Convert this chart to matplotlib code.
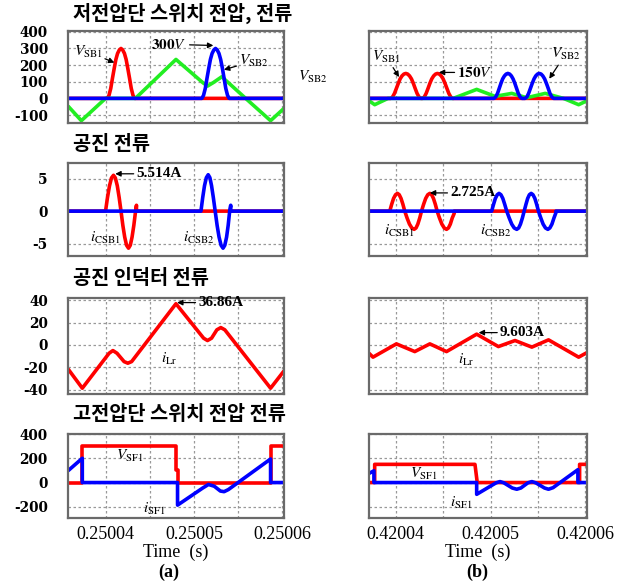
import matplotlib
matplotlib.use("Agg")
import matplotlib.pyplot as plt

plt.rcParams["mathtext.fontset"] = "stix"

W, H = 625, 582
RED, BLUE, GREEN = "#ff0000", "#0000ff", "#22ee22"
KR = ["Noto Sans CJK KR", "DejaVu Sans"]

# time axis in microseconds after 0.25 s (a) and 0.42 s (b)
XLIM_A = (35.75, 60.2)
XLIM_B = (37.18, 60.18)
XTICKS = [40, 50, 60]
XLABELS_A = ["0.25004", "0.25005", "0.25006"]
XLABELS_B = ["0.42004", "0.42005", "0.42006"]
XGRID = [40, 45, 50, 55, 60]

titles = ["저전압단 스위치 전압, 전류", "공진 전류", "공진 인덕터 전류", "고전압단 스위치 전압 전류"]
yticks = [[-100, 0, 100, 200, 300, 400], [-5, 0, 5], [-40, -20, 0, 20, 40], [-200, 0, 200, 400]]
ylims = [(-148, 405), (-6.9, 7.4), (-44, 42), (-292, 400)]

# ---- (a) low-voltage switch voltages
vsb1_a_t = [35.75, 40.2, 40.39, 40.59, 40.78, 40.98, 41.17, 41.36, 41.56, 41.75,
            41.94, 42.14, 42.33, 42.52, 42.72, 42.91, 43.11, 43.3, 60.2]
vsb1_a_v = [0, 0, 18, 60, 120, 180, 234, 270, 291, 300,
            291, 270, 234, 180, 120, 60, 18, 0, 0]
vsb2_a_t = [35.75, 50.9, 51.09, 51.29, 51.48, 51.68, 51.87, 52.06, 52.26, 52.45,
            52.64, 52.84, 53.03, 53.23, 53.42, 53.61, 53.81, 54.0, 60.2]
vsb2_a_v = [0, 0, 18, 60, 120, 180, 234, 270, 291, 300,
            291, 270, 234, 180, 120, 60, 18, 0, 0]
green_a_t = [35.75, 37.26, 40.0, 43.38, 47.97, 51.0, 51.54, 52.2, 53.16, 55.86, 58.68, 60.2]
green_a_v = [-46, -134, 0, 0, 234, 95, 74, 95, 130, 0, -134, -60]

# ---- (a) resonant capacitor currents
icsb1_a_t = [35.75, 40.0, 40.22, 40.45, 40.67, 40.9, 41.11, 41.33, 41.54, 41.75, 41.96, 42.17,
             42.38, 42.6, 42.8, 43.0, 43.2, 43.4, 43.5, 43.5, 60.2]
icsb1_a_v = [0, 0, 2.1, 3.9, 5.1, 5.51, 5.1, 3.9, 2.1, 0, -2.2, -4.0,
             -5.25, -5.7, -5.25, -4.0, -2.2, 0, 0.9, 0, 0]
icsb2_a_t = [35.75, 50.8, 51.0, 51.2, 51.41, 51.62, 51.81, 52.0, 52.2, 52.41, 52.63, 52.85,
             53.08, 53.3, 53.5, 53.7, 53.88, 54.05, 54.17, 54.17, 60.2]
icsb2_a_v = [0, 0, 2.1, 3.9, 5.15, 5.6, 5.15, 3.9, 2.1, 0, -2.2, -4.0,
             -5.25, -5.7, -5.25, -4.0, -2.2, 0, 0.9, 0, 0]

# ---- (a) resonant inductor current
ilr_a_t = [35.75, 37.37, 40.4, 40.83, 41.3, 42.1, 42.52, 42.95, 47.97, 51.1, 51.54, 52.0, 52.6, 53.05, 53.5, 58.68, 60.2]
ilr_a_v = [-21.5, -38.8, -7.5, -5.1, -7.5, -15.0, -16.4, -15.0, 36.86, 6.0, 3.9, 6.0, 13.5, 15.5, 13.5, -38.8, -23.3]

# ---- (a) high-voltage switch
vsf1_a_t = [35.75, 37.37, 37.37, 47.97, 47.97, 48.15, 48.15, 58.68, 58.68, 60.2]
vsf1_a_v = [0, 0, 300, 300, 100, 100, 0, 0, 300, 300]
isf1_a_t = [35.75, 37.37, 37.37, 48.15, 48.15, 51.0, 51.65, 52.3, 53.0, 53.42, 53.9, 58.68, 58.68, 60.2]
isf1_a_v = [97, 200, 0, 0, -186, -45, -16, -30, -70, -75, -58, 194, 0, 0]

# ---- (b) low-voltage switch voltages
vsb1_b_t = [37.18, 39.47, 39.67, 39.87, 40.07, 40.27, 40.46, 40.66, 40.86, 41.06,
            41.26, 41.46, 41.66, 41.86, 42.05, 42.25, 42.45, 42.65,
            42.82, 43.02, 43.21, 43.41, 43.6, 43.8, 44.0, 44.2, 44.4,
            44.6, 44.8, 45.0, 45.2, 45.4, 45.6, 45.8, 46.0, 60.18]
vsb1_b_v = [0, 0, 9, 30, 60, 90, 117, 135, 146, 150,
            146, 135, 117, 90, 60, 30, 9, 0,
            0, 9, 30, 60, 90, 117, 135, 146, 150,
            146, 135, 117, 90, 60, 30, 9, 0, 0]
vsb2_b_t = [37.18, 50.37, 50.55, 50.74, 50.92, 51.1, 51.28, 51.47, 51.65, 51.83,
            52.02, 52.2, 52.38, 52.57, 52.75, 52.93, 53.12, 53.3,
            53.65, 53.84, 54.02, 54.21, 54.4, 54.59, 54.77, 54.96, 55.15,
            55.34, 55.52, 55.71, 55.9, 56.09, 56.27, 56.46, 56.65, 60.18]
vsb2_b_v = vsb1_b_v[:]
green_b_t = [37.18, 37.78, 39.19, 46.07, 48.54, 50.48, 52.24, 53.83, 55.77, 57.7, 59.3, 60.18]
green_b_v = [-14, -38, 0, 0, 54, 12, 30, 4, 30, 0, -38, -14]

# ---- (b) resonant capacitor currents
icsb1_b_t = [37.18, 39.37, 39.57, 39.77, 39.98, 40.18, 40.37, 40.56, 40.76, 40.95, 41.2, 41.45, 41.7, 41.94,
             42.14, 42.33, 42.53, 42.72, 42.94, 43.16, 43.38, 43.6, 43.79, 43.98, 44.18, 44.37,
             44.62, 44.87, 45.12, 45.36, 45.56, 45.76, 45.96, 46.17, 46.17, 60.18]
icsb1_b_v = [0, 0, 1.04, 1.95, 2.52, 2.73, 2.52, 1.95, 1.04, 0, -1.07, -2.0, -2.59, -2.8,
             -2.59, -2.0, -1.07, 0, 1.04, 1.95, 2.52, 2.73, 2.52, 1.95, 1.04, 0,
             -1.07, -2.0, -2.59, -2.8, -2.59, -2.0, -1.07, -0.35, 0, 0]
icsb2_b_t = [37.18, 50.12, 50.32, 50.51, 50.71, 50.9, 51.1, 51.3, 51.5, 51.71, 51.98, 52.24, 52.5, 52.77,
             52.97, 53.16, 53.36, 53.55, 53.74, 53.92, 54.1, 54.29, 54.48, 54.68, 54.87, 55.06,
             55.31, 55.55, 55.8, 56.05, 56.26, 56.48, 56.69, 56.9, 56.9, 60.18]
icsb2_b_v = [0, 0, 1.04, 1.95, 2.52, 2.73, 2.52, 1.95, 1.04, 0, -1.07, -2.0, -2.59, -2.8,
             -2.59, -2.0, -1.07, 0, 1.04, 1.95, 2.52, 2.73, 2.52, 1.95, 1.04, 0,
             -1.07, -2.0, -2.59, -2.8, -2.59, -2.0, -1.07, -0.25, 0, 0]

# ---- (b) resonant inductor current
ilr_b_t = [37.18, 37.6, 40.07, 42.01, 43.6, 45.36, 48.54, 50.83, 52.59, 54.36, 56.12, 59.3, 60.18]
ilr_b_v = [-7.5, -11, 0.9, -6, 0.9, -6, 9.6, -1.5, 3.9, -2, 4.5, -11, -6.9]

# ---- (b) high-voltage switch
vsf1_b_t = [37.18, 37.78, 37.78, 48.36, 48.6, 59.4, 59.4, 60.18]
vsf1_b_v = [0, 0, 150, 150, 0, 0, 150, 150]
isf1_b_t = [37.18, 37.7, 37.7, 48.54, 48.54, 50.2, 50.6, 51.0, 51.4, 52.3, 52.77, 53.2,
            53.95, 54.36, 54.77, 55.7, 56.12, 56.6, 59.22, 59.22, 60.18]
isf1_b_v = [75, 97, 0, 0, -97, -20, -2, 8, -2, -45, -55, -45,
            -2, 8, -2, -45, -55, -42, 106, 0, 0]

fig = plt.figure(figsize=(W / 100, H / 100), dpi=100)

cols = [(68, 284), (369, 587)]
rows = [(31, 123), (163, 256), (298, 394), (434, 518)]


def make_ax(c, r):
    (x0, x1), (y0, y1) = cols[c], rows[r]
    ax = fig.add_axes([x0 / W, 1 - y1 / H, (x1 - x0) / W, (y1 - y0) / H])
    ax.set_xlim(XLIM_A if c == 0 else XLIM_B)
    ax.set_ylim(ylims[r])
    ax.set_xticks(XGRID)
    ax.set_yticks(yticks[r])
    ax.grid(True, linestyle=(0, (2, 2)), color="#999999", lw=0.9)
    ax.tick_params(length=0, pad=14.5)
    for s in ax.spines.values():
        s.set_color("#6a6a6a")
        s.set_linewidth(1.6)
    if c == 0:
        ax.set_yticklabels([str(v) for v in yticks[r]], family="DejaVu Serif",
                           fontweight="bold", fontsize=9.8)
    else:
        ax.set_yticklabels([])
    if r == 3:
        ax.set_xticks(XTICKS)
        ax.set_xticks([45, 55], minor=True)
        ax.grid(True, which="minor", axis="x", linestyle=(0, (2, 2)), color="#999999", lw=0.9)
        ax.tick_params(axis="x", which="both", length=0, pad=6)
        ax.set_xticklabels(XLABELS_A if c == 0 else XLABELS_B, family="Liberation Serif", fontsize=13)
        ax.set_xlabel("Time  (s)", family="Liberation Serif", fontsize=13, labelpad=0)
    else:
        ax.set_xticklabels([])
    return ax


def line(ax, t, v, color):
    ax.plot(t, v, color=color, lw=2.6, solid_joinstyle="round", solid_capstyle="butt")


def arrow(ax, text, xy, xytext, ha="left", **kw):
    ax.annotate(text, xy=xy, xytext=xytext, ha=ha, va="center",
                arrowprops=dict(arrowstyle="-|>", color="black", lw=0.9, mutation_scale=8,
                                shrinkA=0, shrinkB=0), **kw)


LBL = dict(fontsize=11)
NUM = dict(fontsize=11, family="Liberation Serif", fontweight="bold")

# row 1
ax = make_ax(0, 0)
line(ax, vsb1_a_t, vsb1_a_v, RED)
line(ax, green_a_t, green_a_v, GREEN)
line(ax, vsb2_a_t, vsb2_a_v, BLUE)
arrow(ax, r"$V_{\mathrm{SB1}}$", (41.0, 215), (38.0, 280), ha="center", **LBL)
arrow(ax, r"$\mathbf{300}V$", (52.2, 318), (49.2, 325), ha="right", **LBL)
arrow(ax, r"$V_{\mathrm{SB2}}$", (53.4, 172), (56.8, 225), ha="center", **LBL)

ax = make_ax(1, 0)
line(ax, vsb1_b_t, vsb1_b_v, RED)
line(ax, green_b_t, green_b_v, GREEN)
line(ax, vsb2_b_t, vsb2_b_v, BLUE)
arrow(ax, r"$V_{\mathrm{SB1}}$", (40.35, 128), (39.0, 250), ha="center", **LBL)
arrow(ax, r"$\mathbf{150}V$", (44.55, 156), (46.5, 156), ha="left", **LBL)
arrow(ax, r"$V_{\mathrm{SB2}}$", (56.2, 118), (57.9, 265), ha="center", **LBL)

fig.text(298 / W, 1 - 77 / H, r"$V_{\mathrm{SB2}}$", ha="left", va="center", fontsize=11)

# row 2
ax = make_ax(0, 1)
line(ax, icsb1_a_t, icsb1_a_v, RED)
line(ax, icsb2_a_t, icsb2_a_v, BLUE)
arrow(ax, "5.514A", (41.1, 5.74), (43.5, 5.74), **NUM)
ax.text(40.0, -4.2, r"$i_{\mathrm{CSB1}}$", ha="center", va="center", **LBL)
ax.text(50.6, -4.2, r"$i_{\mathrm{CSB2}}$", ha="center", va="center", **LBL)

ax = make_ax(1, 1)
line(ax, icsb1_b_t, icsb1_b_v, RED)
line(ax, icsb2_b_t, icsb2_b_v, BLUE)
arrow(ax, "2.725A", (43.6, 2.8), (45.75, 2.8), **NUM)
ax.text(40.4, -3.1, r"$i_{\mathrm{CSB1}}$", ha="center", va="center", **LBL)
ax.text(50.5, -3.1, r"$i_{\mathrm{CSB2}}$", ha="center", va="center", **LBL)

# row 3
ax = make_ax(0, 2)
line(ax, ilr_a_t, ilr_a_v, RED)
arrow(ax, "36.86A", (48.1, 37.9), (50.5, 37.9), **NUM)
ax.text(47.2, -12.5, r"$i_{\mathrm{Lr}}$", ha="center", va="center", **LBL)

ax = make_ax(1, 2)
line(ax, ilr_b_t, ilr_b_v, RED)
arrow(ax, "9.603A", (48.75, 11.0), (51.0, 11.0), **NUM)
ax.text(47.4, -13.1, r"$i_{\mathrm{Lr}}$", ha="center", va="center", **LBL)

# row 4
ax = make_ax(0, 3)
line(ax, vsf1_a_t, vsf1_a_v, RED)
line(ax, isf1_a_t, isf1_a_v, BLUE)
ax.text(42.7, 217, r"$V_{\mathrm{SF1}}$", ha="center", va="center", **LBL)
ax.text(45.5, -214, r"$i_{\mathrm{SF1}}$", ha="center", va="center", **LBL)
fig.text(169 / W, 1 - 572 / H, "(a)", ha="center", va="center", family="Liberation Serif",
         fontweight="bold", fontsize=13)

ax = make_ax(1, 3)
line(ax, vsf1_b_t, vsf1_b_v, RED)
line(ax, isf1_b_t, isf1_b_v, BLUE)
ax.text(42.9, 69, r"$V_{\mathrm{SF1}}$", ha="center", va="center", **LBL)
ax.text(46.95, -164, r"$i_{\mathrm{SF1}}$", ha="center", va="center", **LBL)
fig.text(477 / W, 1 - 572 / H, "(b)", ha="center", va="center", family="Liberation Serif",
         fontweight="bold", fontsize=13)

for title, y in zip(titles, [13, 145, 278, 415]):
    fig.text(73 / W, 1 - y / H, title, ha="left", va="center", family=KR,
             fontweight="bold", fontsize=14.2)

fig.savefig("out.png", dpi=100)
